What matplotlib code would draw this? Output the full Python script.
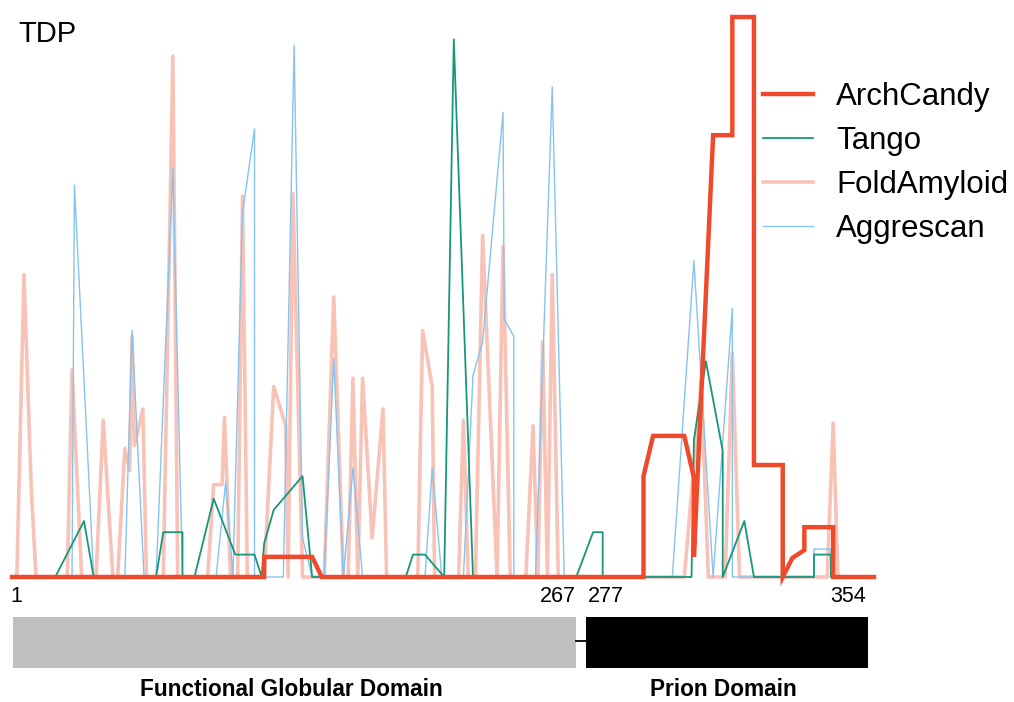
import matplotlib
matplotlib.use("Agg")
import matplotlib.pyplot as plt

plt.rcParams['font.family'] = ['Liberation Sans', 'DejaVu Sans']

# residue position (x) and normalised score (y, 0-100)
arch_x = [1, 106, 106, 126, 130, 264, 264, 268, 281, 285, 285, 293, 301, 301,
          310, 310, 322, 322, 326, 331, 331, 343, 343, 360]
arch_y = [0, 0, 3.6, 3.6, 0, 0, 18, 25.2, 25.2, 17.7, 3.6, 78.9, 78.9, 100,
          100, 20, 20, 0, 3.4, 4.8, 8.9, 8.9, 0, 0]

tango_x = [1, 19, 31, 35, 61, 64, 72, 72, 77, 85, 94, 102, 105, 106, 110, 122,
           126, 165, 168, 173, 181, 185, 193, 236, 243, 247, 247, 284, 285,
           290, 297, 297, 306, 310, 335, 335, 342, 342, 360]
tango_y = [0, 0, 10, 0, 0, 8, 8, 0, 0, 14, 4, 4, 0, 6, 12, 18,
           0, 0, 4, 4, 0, 96, 0, 0, 8, 8, 0, 0, 24.5,
           38.5, 22.5, 0, 10, 0, 0, 4, 4, 0, 0]

fold_x = [1, 3, 6, 9, 11, 24, 26, 30, 36, 39, 43, 45, 48, 50, 51, 52, 55.5, 57,
          64, 68, 70, 82.5, 85, 88.5, 89.5, 92, 95, 97, 99, 106, 110, 115, 116,
          118, 122, 131, 135, 139, 141, 143, 145, 147, 151, 155.5, 157, 170,
          172, 176, 177, 187, 189, 191, 194, 197, 203, 205.5, 208.5, 215, 218,
          220, 222, 224, 226, 228.5, 281, 288, 291, 298, 301, 304, 340.5, 343,
          345, 360]
fold_y = [0, 0, 54, 16, 0, 0, 37, 0, 0, 28, 0, 0, 23, 19, 43, 23.5, 30, 0,
          0, 93, 0, 0, 16.5, 16.5, 28.5, 0, 0, 68, 0, 0, 34, 27, 0,
          68.5, 0, 0, 50, 0, 0, 35.5, 0, 35.5, 7, 30, 0, 0,
          44, 34, 0, 0, 28, 0, 0, 61, 0, 59, 0, 0, 27,
          0, 42, 0, 54, 0, 0, 35, 0, 0, 40, 0, 0, 27.5,
          0, 0]

aggr_x = [1, 26, 27, 35, 48, 51, 56, 61, 68, 72, 86, 90, 93, 97, 102, 102,
          114, 118.5, 122, 126, 131, 135, 139, 143, 147, 173, 176, 180, 189,
          193, 197, 205.5, 206, 210, 210, 219, 226, 231, 276, 285, 293, 301,
          301, 335, 335, 342, 342, 360]
aggr_y = [0, 0, 70, 0, 0, 44, 0, 0, 73, 0, 0, 17, 0, 65, 80, 0,
          0, 95, 7, 0, 0, 39, 0, 19.5, 0, 0, 19.5, 0, 0,
          36, 42, 83, 46, 43, 0, 0, 87.5, 0, 0, 56.5, 0, 48,
          0, 0, 5, 5, 0, 0]

# domain schematic
domain_names = ['Functional Globular Domain', 'Prion Domain']
domain_span = [(1.4, 236), (240.2, 357.3)]
domain_colors = ['#bfbfbf', '#000000']
residue_labels = ['1', '267', '277', '354']

fig = plt.figure(figsize=(10.14, 7.02), dpi=100)
W, H = 1014, 702

ax = fig.add_axes([12 / W, 1 - 577 / H, (874 - 12) / W, (577 - 17) / H])
ax.set_xlim(1, 360)
ax.set_ylim(0, 100)
ax.axis('off')

ax.plot(fold_x, fold_y, color='#f49a88', lw=2.6, alpha=0.6, zorder=1,
        label='FoldAmyloid', clip_on=False)
ax.plot(aggr_x, aggr_y, color='#86c3ee', lw=1.0, zorder=2,
        label='Aggrescan', clip_on=False)
ax.plot(tango_x, tango_y, color='#17977a', lw=1.3, zorder=3,
        label='Tango', clip_on=False)
ax.plot(arch_x, arch_y, color='#ef4a2c', lw=3.2, zorder=4,
        label='ArchCandy', clip_on=False, solid_joinstyle='miter')

h, l = ax.get_legend_handles_labels()
order = [3, 2, 0, 1]
ax.legend([h[i] for i in order], [l[i] for i in order],
          loc='upper left', bbox_to_anchor=(763 / W, 1 - 82 / H),
          bbox_transform=fig.transFigure, frameon=False, fontsize=22.5,
          handlelength=1.6, handletextpad=0.75, labelspacing=0.45,
          borderpad=0, borderaxespad=0)

fig.text(18 / W, 1 - 42 / H, 'TDP', fontsize=21, va='baseline', ha='left')

# schematic of the domains underneath
ax2 = fig.add_axes([12 / W, 0, (874 - 12) / W, 122 / H])
ax2.set_xlim(1, 360)
ax2.set_ylim(0, 122)
ax2.axis('off')
for (x0, x1), c, name in zip(domain_span, domain_colors, domain_names):
    ax2.barh(59.5, x1 - x0, left=x0, height=51, color=c)
    ax2.text((x0 + x1) / 2 - 1.5, 12, name, ha='center', va='center',
             fontsize=16.3, fontweight='bold')
ax2.plot([domain_span[0][1], domain_span[1][0]], [61, 61], color='black', lw=1.3)

ax2.text(domain_span[0][0] - 1, 105, residue_labels[0], ha='left', va='center', fontsize=15.5)
ax2.text(domain_span[0][1], 105, residue_labels[1], ha='right', va='center', fontsize=15.5)
ax2.text(domain_span[1][0] + 0.5, 105, residue_labels[2], ha='left', va='center', fontsize=15.5)
ax2.text(domain_span[1][1] - 0.5, 105, residue_labels[3], ha='right', va='center', fontsize=15.5)

fig.savefig('out.png', dpi=100)
